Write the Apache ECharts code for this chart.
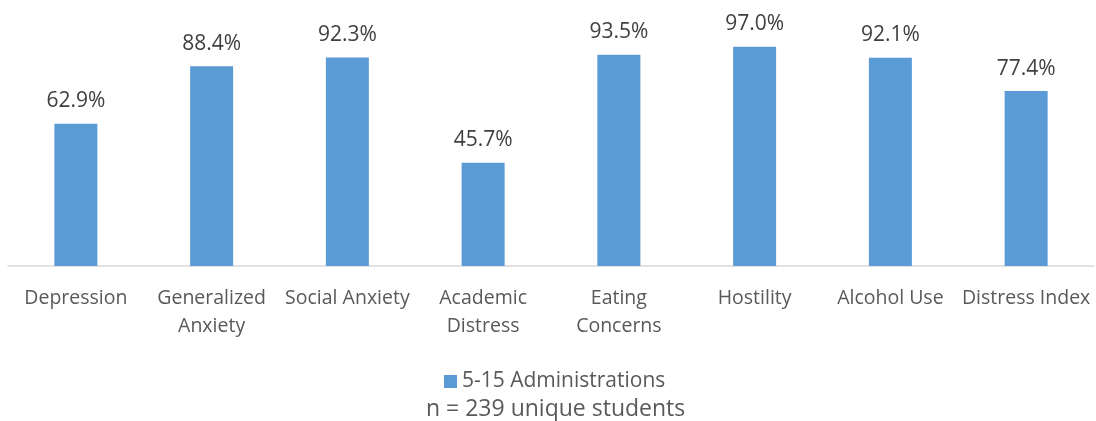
<!DOCTYPE html>
<html>
<head>
<meta charset="utf-8">
<script src="https://cdn.jsdelivr.net/npm/echarts@6/dist/echarts.min.js"></script>
<style>html,body{margin:0;padding:0;background:#fff;}#c{width:1096px;height:421px;}</style>
</head>
<body>
<div id="c"></div>
<script>
const categories = ['Depression', 'Generalized\nAnxiety', 'Social Anxiety', 'Academic\nDistress', 'Eating\nConcerns', 'Hostility', 'Alcohol Use', 'Distress Index'];
const seriesName = '5-15 Administrations';
const values = [62.9, 88.4, 92.3, 45.7, 93.5, 97.0, 92.1, 77.4];
const footnote = 'n = 239 unique students';

const chart = echarts.init(document.getElementById('c'));
chart.setOption({
  animation: false,
  textStyle: { fontFamily: 'Open Sans' },
  grid: { left: 8, right: 2, top: 40, bottom: 155, containLabel: false },
  legend: {
    data: [seriesName], top: 366, left: 439,
    itemWidth: 13, itemHeight: 13, itemGap: 6,
    icon: 'rect',
    textStyle: { fontSize: 21, color: '#595959', fontFamily: 'Open Sans' }
  },
  graphic: [{
    type: 'text', left: 426, top: 398,
    style: { text: footnote, fontSize: 23, fill: '#595959', fontFamily: 'Open Sans' }
  }],
  xAxis: {
    type: 'category', data: categories,
    axisLine: { lineStyle: { color: '#d9d9d9', width: 1.5 } },
    axisTick: { show: false },
    axisLabel: { interval: 0, color: '#595959', fontSize: 19.5, lineHeight: 28, margin: 18, fontFamily: 'Open Sans' }
  },
  yAxis: { type: 'value', min: 0, max: 100, show: false, splitLine: { show: false } },
  series: [{
    name: seriesName, type: 'bar', data: values, barWidth: 43,
    itemStyle: { color: '#5b9bd5' },
    label: { show: true, position: 'top', distance: 12, color: '#404040', fontSize: 21,
      fontFamily: 'Open Sans', formatter: p => p.value.toFixed(1) + '%' }
  }]
});
</script>
</body>
</html>
